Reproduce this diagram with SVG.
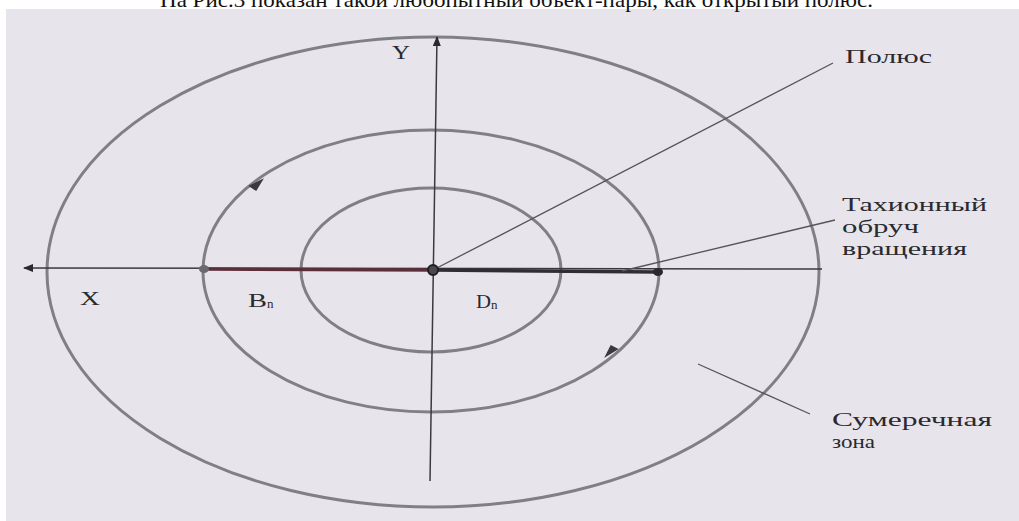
<svg xmlns="http://www.w3.org/2000/svg" width="1019" height="521" viewBox="0 0 1019 521">
<defs>
<style>
.ring{fill:none;stroke:#807f86;stroke-width:3}
.axis{stroke:#3a393f;stroke-width:1.5;fill:none}
.lead{stroke:#55545a;stroke-width:1.3;fill:none}
.lbl{font-family:"Liberation Serif","DejaVu Serif",serif;font-size:18px;fill:#2a292e}
.sym{font-family:"Liberation Serif","DejaVu Serif",serif;font-size:18px;fill:#2a292e}
</style>
<marker id="tri" markerWidth="10" markerHeight="8" refX="9" refY="4" orient="auto" markerUnits="userSpaceOnUse">
<path d="M0,0 L10,4 L0,8 Z" fill="#2a292e"/>
</marker>
</defs>
<rect x="0" y="0" width="1019" height="521" fill="#ffffff"/>
<rect x="6" y="9" width="1013" height="512" fill="#e7e5eb"/>
<text x="160" y="7" font-family="Liberation Serif, serif" font-size="22" fill="#111" textLength="713" lengthAdjust="spacingAndGlyphs">На Рис.3 показан такой любопытный объект-пары, как открытый полюс.</text>

<g id="outer-zone">
<ellipse class="ring" cx="433" cy="272" rx="386" ry="235" stroke="#8a8990"/>
</g>
<g id="middle-orbit">
<ellipse class="ring" cx="431" cy="271" rx="228" ry="141"/>
<path d="M250,186 L262,180 L256,190 Z" fill="#3a393f" stroke="#3a393f" stroke-width="1.5"/>
<path d="M617,349 L606,356 L611,346 Z" fill="#3a393f" stroke="#3a393f" stroke-width="1.5"/>
</g>
<g id="inner-orbit">
<ellipse class="ring" cx="431" cy="270" rx="130" ry="82"/>
</g>

<g id="connectors">
<line class="axis" x1="822" y1="269" x2="24" y2="268" marker-end="url(#tri)"/>
<line class="axis" x1="430" y1="481" x2="437" y2="37" marker-end="url(#tri)"/>
<line x1="204" y1="269" x2="433" y2="270" stroke="#5a2f3a" stroke-width="3.5"/>
<line x1="433" y1="270" x2="658" y2="272" stroke="#2f2e34" stroke-width="3.5"/>
<line class="lead" x1="433" y1="270" x2="833" y2="63"/>
<line class="lead" x1="622" y1="271" x2="835" y2="220"/>
<line class="lead" x1="698" y1="364" x2="810" y2="414"/>
</g>

<g id="center-pole">
<circle cx="433" cy="270" r="5" fill="#4a4950" stroke="#1e1d22" stroke-width="2"/>
</g>
<g id="point-b">
<ellipse cx="204" cy="269" rx="5" ry="4" fill="#6a6970"/>
</g>
<g id="point-right">
<ellipse cx="658" cy="272" rx="5" ry="4" fill="#2a292e"/>
</g>

<g id="labels">
<text class="sym" x="392" y="59" textLength="18" lengthAdjust="spacingAndGlyphs">Y</text>
<text class="sym" x="80" y="305" textLength="20" lengthAdjust="spacingAndGlyphs">X</text>
<text class="sym" x="248" y="307"><tspan textLength="19" lengthAdjust="spacingAndGlyphs">B</tspan><tspan font-size="13" dy="1">n</tspan></text>
<text class="sym" x="476" y="308"><tspan textLength="15" lengthAdjust="spacingAndGlyphs">D</tspan><tspan font-size="13" dy="1">n</tspan></text>
</g>
<g id="label-pole">
<text class="lbl" x="845" y="63" textLength="87" lengthAdjust="spacingAndGlyphs">Полюс</text>
</g>
<g id="label-tachyon">
<text class="lbl" x="842" y="211" textLength="145" lengthAdjust="spacingAndGlyphs">Тахионный</text>
<text class="lbl" x="842" y="233" textLength="77" lengthAdjust="spacingAndGlyphs">обруч</text>
<text class="lbl" x="842" y="255" textLength="125" lengthAdjust="spacingAndGlyphs">вращения</text>
</g>
<g id="label-twilight">
<text class="lbl" x="832" y="426" textLength="160" lengthAdjust="spacingAndGlyphs">Сумеречная</text>
<text class="lbl" x="832" y="448" textLength="43" lengthAdjust="spacingAndGlyphs">зона</text>
</g>
</svg>
